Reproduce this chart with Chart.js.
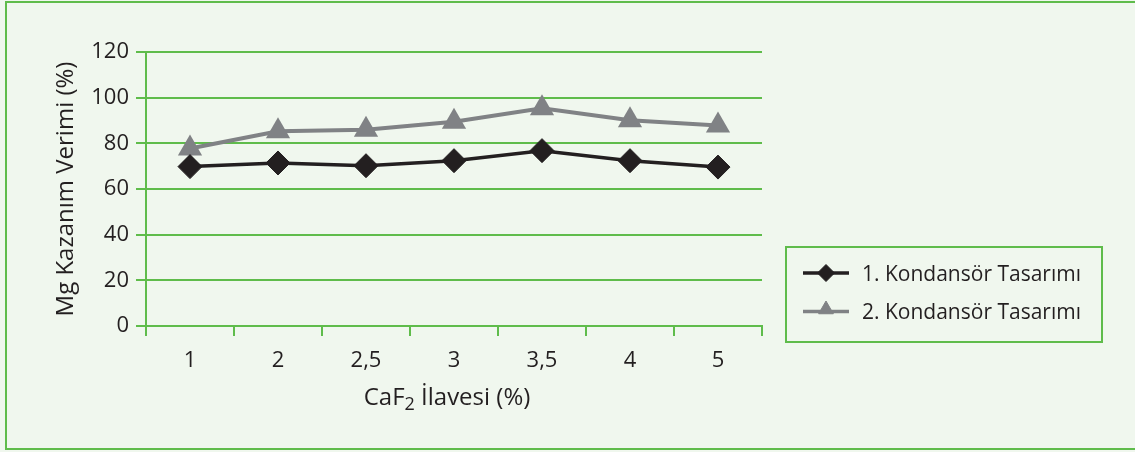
<!DOCTYPE html>
<html>
<head>
<meta charset="utf-8">
<script src="https://cdn.jsdelivr.net/npm/chart.js@4"></script>
<style>
    html, body { margin: 0; padding: 0; background: #f0f7ee; }
    #wrap { width: 1135px; height: 452px; position: relative; }
</style>
</head>
<body>
<div id="wrap"><canvas id="chart" width="1135" height="452"></canvas></div>
<script>
// Data
const categories = ['1', '2', '2,5', '3', '3,5', '4', '5'];
const design1 = [69.8, 71.4, 70.2, 72.4, 76.8, 72.4, 69.6];
const design2 = [77.7, 85.3, 85.9, 89.5, 95.4, 90.1, 87.8];
const seriesNames = ['1. Kondansör Tasarımı', '2. Kondansör Tasarımı'];
const yTicks = [0, 20, 40, 60, 80, 100, 120];

const GREEN = '#5fbc4b';
const BLACK = '#231f20';
const GREY = '#808285';
const FONT = "'Open Sans', 'Noto Sans', sans-serif";

// Frame, background, x title with subscript, and the boxed legend
const decor = {
    id: 'decor',
    beforeDraw(c) {
        const ctx = c.ctx;
        ctx.save();
        ctx.fillStyle = '#f0f7ee';
        ctx.fillRect(0, 0, c.width, c.height);
        ctx.strokeStyle = GREEN;
        ctx.lineWidth = 2;
        ctx.strokeRect(6, 2, 1140, 447);
        ctx.restore();
    },
    afterDraw(c) {
        const ctx = c.ctx;
        const area = c.chartArea;
        ctx.save();
        ctx.fillStyle = BLACK;
        ctx.textBaseline = 'alphabetic';

        // x axis title: CaF2 İlavesi (%)
        const big = '24px ' + FONT, small = '18px ' + FONT;
        const parts = [['CaF', big, 0], ['2', small, 5], [' İlavesi (%)', big, 0]];
        let total = 0;
        parts.forEach(p => { ctx.font = p[1]; total += ctx.measureText(p[0]).width; });
        let x = (area.left + area.right) / 2 - 7 - total / 2;
        const base = 405;
        parts.forEach(p => {
            ctx.font = p[1];
            ctx.fillText(p[0], x, base + p[2]);
            x += ctx.measureText(p[0]).width;
        });

        // legend box
        ctx.strokeStyle = GREEN;
        ctx.lineWidth = 2;
        ctx.strokeRect(786, 247, 316, 95);
        ctx.font = '21px ' + FONT;
        c.data.datasets.forEach((ds, i) => {
            const y = 273 + i * 38.5;
            ctx.strokeStyle = ds.borderColor;
            ctx.lineWidth = 3.5;
            ctx.beginPath();
            ctx.moveTo(803, y);
            ctx.lineTo(849, y);
            ctx.stroke();
            ctx.fillStyle = ds.pointBackgroundColor;
            ctx.strokeStyle = ds.pointBorderColor;
            ctx.lineWidth = 1;
            Chart.helpers.drawPoint(ctx, {
                pointStyle: ds.pointStyle, radius: 8.5, borderWidth: 1
            }, 826, i === 1 ? y - 2 : y);
            ctx.fillStyle = BLACK;
            ctx.fillText(seriesNames[i], 862, y + 7.5);
        });
        ctx.restore();
    }
};

new Chart(document.getElementById('chart'), {
    type: 'line',
    data: {
        labels: categories,
        datasets: [{
            label: seriesNames[0],
            data: design1,
            borderColor: BLACK,
            borderWidth: 3.5,
            pointStyle: 'rectRot',
            pointRadius: 12,
            pointBackgroundColor: BLACK,
            pointBorderColor: BLACK,
            pointBorderWidth: 1,
            tension: 0
        }, {
            label: seriesNames[1],
            data: design2,
            borderColor: GREY,
            borderWidth: 4,
            pointStyle: 'triangle',
            pointRadius: 14,
            pointBackgroundColor: GREY,
            pointBorderColor: GREY,
            pointBorderWidth: 0,
            tension: 0
        }]
    },
    options: {
        responsive: false,
        animation: false,
        devicePixelRatio: 1,
        layout: { padding: { top: 52, right: 373, bottom: 0, left: 0 } },
        plugins: { legend: { display: false }, tooltip: { enabled: false } },
        scales: {
            x: {
                offset: true,
                grid: { offset: true, color: GREEN, lineWidth: 2, drawOnChartArea: false, tickLength: 10 },
                border: { color: GREEN, width: 2 },
                ticks: { color: BLACK, font: { family: FONT, size: 22 }, padding: 12 },
                afterFit(s) { s.height = 126; }
            },
            y: {
                min: 0,
                max: 120,
                afterBuildTicks(s) { s.ticks = yTicks.map(v => ({ value: v })); },
                grid: { color: GREEN, lineWidth: 2, tickLength: 10 },
                border: { color: GREEN, width: 2 },
                ticks: { color: BLACK, font: { family: FONT, size: 22 }, padding: 7 },
                title: {
                    display: true,
                    text: 'Mg Kazanım Verimi (%)',
                    color: BLACK,
                    font: { family: FONT, size: 24 },
                    padding: { top: 52, bottom: 0 }
                },
                afterFit(s) { s.width = 146; }
            }
        }
    },
    plugins: [decor]
});
</script>
</body>
</html>
